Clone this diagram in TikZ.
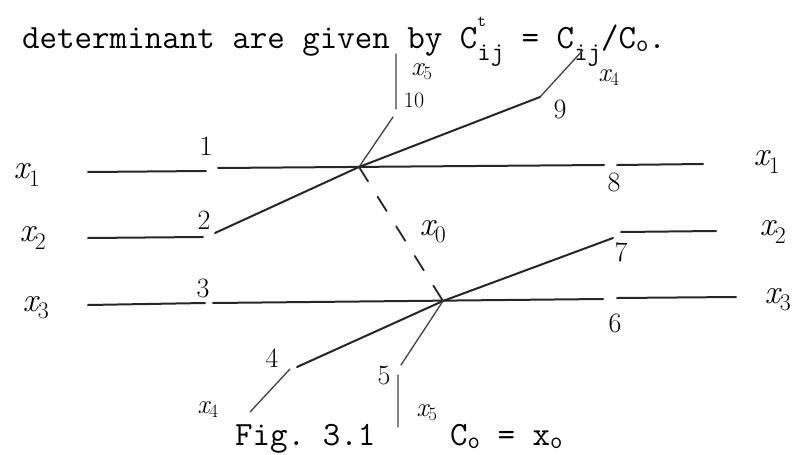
\documentclass[tikz,border=0pt]{standalone}
\usepackage{fontspec}
\setmainfont{Latin Modern Roman}
\setmonofont{Latin Modern Mono}
\newcommand\xv[1]{{\itshape x}\textsubscript{#1}}
\newcommand\tsub[1]{\raisebox{-13pt}{\fontsize{26}{26}\selectfont #1}}
\newcommand\osub[1]{\raisebox{-3pt}{\fontsize{24}{24}\selectfont #1}}
\begin{document}
\begin{tikzpicture}[x=1pt,y=-1pt,line cap=round,
        wire/.style={line width=2pt,black!85},
        leg/.style={line width=1.3pt,black!75},
        hand/.style={font=\fontsize{28}{28}\selectfont},
        var/.style={font=\fontsize{34}{34}\selectfont},
        smallvar/.style={font=\fontsize{27}{27}\selectfont},
        type/.style={font=\fontsize{34}{36}\selectfont\ttfamily}]
    \useasboundingbox (0,0) rectangle (796,455);
    \node[type,anchor=base west,inner sep=0pt] (head) at (22,48)
        {determinant are given by C\rlap{\raisebox{.62em}{\fontsize{17}{17}\selectfont t}}\tsub{ij} = C\tsub{ij}/C\osub{o}.};
    % crossings
    \coordinate (A) at (359,167);
    \coordinate (B) at (443,301);
    % row ends
    \coordinate (r1a) at (88,172);  \coordinate (r1b) at (206,171);
    \coordinate (r1c) at (218,168); \coordinate (r1d) at (604,165);
    \coordinate (r1e) at (617,165); \coordinate (r1f) at (703,164);
    \coordinate (r2a) at (88,238);  \coordinate (r2b) at (203,237);
    \coordinate (r2c) at (215,233);
    \coordinate (r2d) at (613,238);
    \coordinate (r2e) at (621,232); \coordinate (r2f) at (716,231);
    \coordinate (r3a) at (88,305);  \coordinate (r3b) at (205,303);
    \coordinate (r3c) at (213,303); \coordinate (r3d) at (603,299);
    \coordinate (r3e) at (617,298); \coordinate (r3f) at (736,297);
    % legs x4, x5
    \coordinate (p9) at (540,97);   \coordinate (t4) at (583,50);
    \coordinate (p10) at (393,117); \coordinate (u10) at (396,109);
    \coordinate (t5) at (396,54);
    \coordinate (p4) at (297,367);  \coordinate (q4) at (290,369);
    \coordinate (b4) at (250,412);
    \coordinate (p5) at (401,365);  \coordinate (q5) at (398,375);
    \coordinate (b5) at (398,427);
    \draw[wire] (r1a)--(r1b) (r1c)--(r1d) (r1e)--(r1f);
    \draw[wire] (r2a)--(r2b) (r2c)--(A)--(p9) (B)--(r2d) (r2e)--(r2f);
    \draw[wire] (r3a)--(r3b) (r3c)--(r3d) (r3e)--(r3f);
    \draw[wire] (B)--(p4);
    \draw[leg] (p9)--(t4) (p10)--(A) (t5)--(u10);
    \draw[leg] (q4)--(b4) (B)--(p5) (q5)--(b5);
    \draw[wire,line width=1.8pt,dash pattern=on 17pt off 18pt] (A)--(B);
    % labels
    \node[var] (x1l) at (27,175) {\xv{1}};
    \node[var] (x2l) at (33,238) {\xv{2}};
    \node[var] (x3l) at (36,308) {\xv{3}};
    \node[var] (x1r) at (767,162) {\xv{1}};
    \node[var] (x2r) at (773,232) {\xv{2}};
    \node[var] (x3r) at (778,300) {\xv{3}};
    \node[var] (x0) at (433,232) {\xv{0}};
    \node[smallvar] (x4t) at (609,78) {\xv{4}};
    \node[smallvar] (x5t) at (422,72) {\xv{5}};
    \node[smallvar] (x4b) at (208,410) {\xv{4}};
    \node[smallvar] (x5b) at (427,413) {\xv{5}};
    \node[hand] (n1) at (206,146) {1};
    \node[hand] (n2) at (204,220) {2};
    \node[hand] (n3) at (203,288) {3};
    \node[hand] (n4) at (272,358) {4};
    \node[hand] (n5) at (384,375) {5};
    \node[hand] (n6) at (615,323) {6};
    \node[hand] (n7) at (621,252) {7};
    \node[hand] (n8) at (614,182) {8};
    \node[hand] (n9) at (560,109) {9};
    \node[hand,font=\fontsize{22}{22}\selectfont] (n10) at (414,100) {10};
    % caption
    \node[type,anchor=base west,inner sep=0pt] (fig) at (235,445) {Fig. 3.1};
    \node[type,anchor=base west,inner sep=0pt] (eq) at (450,445) {C\osub{o} = x\osub{o}};
\end{tikzpicture}
\end{document}
